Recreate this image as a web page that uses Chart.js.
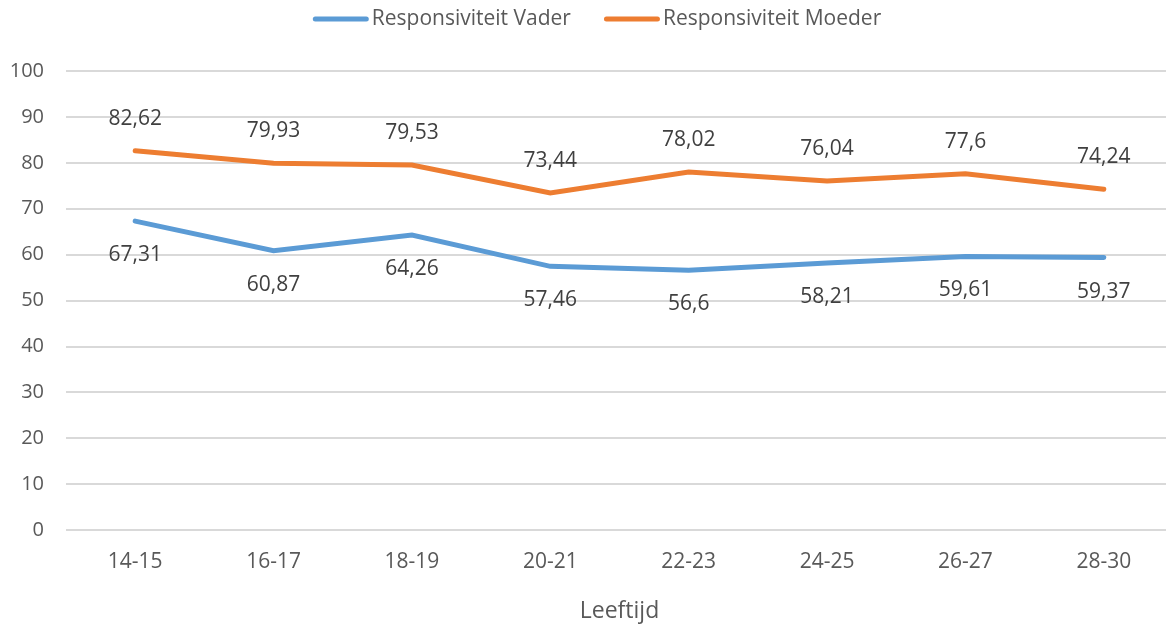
<!DOCTYPE html>
<html>
<head>
<meta charset="utf-8">
<script src="https://cdn.jsdelivr.net/npm/chart.js@4/dist/chart.umd.min.js"></script>
<style>
html,body{margin:0;padding:0;background:#fff;overflow:hidden;}
#wrap{position:relative;width:1173px;height:626px;}
</style>
</head>
<body>
<div id="wrap"><canvas id="c"></canvas></div>
<script>
const categories = ["14-15","16-17","18-19","20-21","22-23","24-25","26-27","28-30"];
const vader = [67.31, 60.87, 64.26, 57.46, 56.6, 58.21, 59.61, 59.37];
const moeder = [82.62, 79.93, 79.53, 73.44, 78.02, 76.04, 77.6, 74.24];
const seriesNames = ["Responsiviteit Vader", "Responsiviteit Moeder"];
const yTicks = [0,10,20,30,40,50,60,70,80,90,100];
const xTitle = "Leeftijd";

const FONT = "'Open Sans', sans-serif";
const TXT = "#595959";

const dataLabels = {
  id: 'dataLabels',
  afterDatasetsDraw(chart) {
    const ctx = chart.ctx;
    ctx.save();
    ctx.font = "21px " + FONT;
    ctx.fillStyle = "#404040";
    ctx.textAlign = "center";
    ctx.textBaseline = "middle";
    chart.data.datasets.forEach((ds, i) => {
      const meta = chart.getDatasetMeta(i);
      meta.data.forEach((pt, j) => {
        const txt = String(ds.data[j]).replace('.', ',');
        const dy = ds.labelPos === 'above' ? -32 : 34;
        ctx.fillText(txt, pt.x, pt.y + dy);
      });
    });
    ctx.restore();
  }
};

const customLegend = {
  id: 'customLegend',
  afterDraw(chart) {
    const ctx = chart.ctx;
    ctx.save();
    ctx.font = "21px " + FONT;
    ctx.textBaseline = "middle";
    ctx.textAlign = "left";
    const lineW = 56, gapLT = 3, gapItems = 33;
    const items = chart.data.datasets.map(ds => ({ text: ds.label, color: ds.borderColor, w: ctx.measureText(ds.label).width }));
    let total = 0;
    items.forEach((it, i) => { total += lineW + gapLT + it.w + (i < items.length - 1 ? gapItems : 0); });
    let x = 597 - total / 2;
    const y = 19;
    items.forEach(it => {
      ctx.strokeStyle = it.color;
      ctx.lineWidth = 5;
      ctx.lineCap = 'round';
      ctx.beginPath();
      ctx.moveTo(x + 2.5, y);
      ctx.lineTo(x + lineW - 2.5, y);
      ctx.stroke();
      x += lineW + gapLT;
      ctx.fillStyle = TXT;
      ctx.fillText(it.text, x, y);
      x += it.w + gapItems;
    });
    ctx.restore();
  }
};

new Chart(document.getElementById('c'), {
  type: 'line',
  data: {
    labels: categories,
    datasets: [
      { label: seriesNames[0], data: vader, borderColor: '#5B9BD5', backgroundColor: '#5B9BD5',
        borderWidth: 5, pointRadius: 0, tension: 0, borderCapStyle: 'round', labelPos: 'below' },
      { label: seriesNames[1], data: moeder, borderColor: '#ED7D31', backgroundColor: '#ED7D31',
        borderWidth: 5, pointRadius: 0, tension: 0, borderCapStyle: 'round', labelPos: 'above' }
    ]
  },
  options: {
    responsive: true,
    maintainAspectRatio: false,
    animation: false,
    layout: { padding: { top: 71, bottom: 1, left: 0, right: 0 } },
    plugins: {
      tooltip: { enabled: false },
      legend: { display: false }
    },
    scales: {
      x: {
        offset: true,
        grid: { display: false },
        border: { display: false },
        ticks: { font: { family: FONT, size: 21 }, color: TXT, padding: 11 },
        title: { display: true, text: xTitle, font: { family: FONT, size: 23 }, color: TXT, padding: { top: 12, bottom: 0 } }
      },
      y: {
        min: 0, max: 100,
        afterBuildTicks(s) { s.ticks = yTicks.map(v => ({ value: v })); },
        afterFit(s) { s.width = 66; },
        grid: { color: '#D9D9D9', lineWidth: 2, drawTicks: false },
        border: { display: false },
        ticks: { font: { family: FONT, size: 20 }, color: TXT, padding: 22 }
      }
    }
  },
  plugins: [dataLabels, customLegend]
});
</script>
</body>
</html>
